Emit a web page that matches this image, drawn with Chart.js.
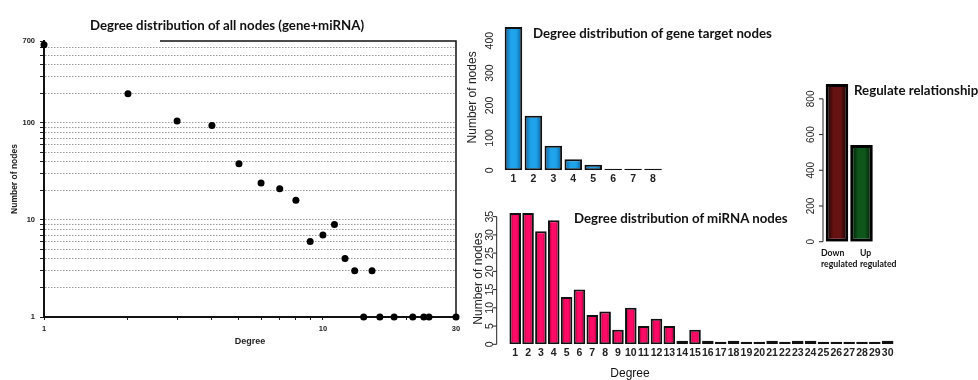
<!DOCTYPE html>
<html lang="en">
<head>
<meta charset="UTF-8">
<title>Degree distribution of gene and miRNA nodes</title>
<script src="https://cdn.jsdelivr.net/npm/chart.js"></script>
<style>
  html, body { margin: 0; padding: 0; background: #fff; }
  body { position: relative; width: 978px; height: 380px; overflow: hidden; }
  .panel { position: absolute; }
  .head { position: absolute; font: bold 13.25px Lato, sans-serif; color: #111; white-space: nowrap; transform: translateY(-50%); }
</style>
</head>
<body>
  <div class="panel" style="left:0;top:0;width:470px;height:360px"><canvas id="allNodes"></canvas></div>
  <div class="panel" style="left:460px;top:0;width:330px;height:190px"><canvas id="geneNodes"></canvas></div>
  <div class="panel" style="left:460px;top:190px;width:480px;height:190px"><canvas id="mirnaNodes"></canvas></div>
  <div class="panel" style="left:790px;top:60px;width:188px;height:220px"><canvas id="regulate"></canvas></div>

  <div class="head" style="left:227px;top:25px;transform:translate(-50%,-50%)">Degree distribution of all nodes (gene+miRNA)</div>
  <div class="head" style="left:533px;top:33px">Degree distribution of gene target nodes</div>
  <div class="head" style="left:574px;top:218px">Degree distribution of miRNA nodes</div>
  <div class="head" style="left:854px;top:90px">Regulate relationship</div>
  <div class="head" style="left:630px;top:373px;transform:translate(-50%,-50%);font:12px 'Liberation Sans',Arial,sans-serif">Degree</div>

<script>
// all nodes (gene + miRNA), log-log
const allDegree = [1, 2, 3, 4, 5, 6, 7, 8, 9, 10, 11, 12, 13, 14, 15, 16, 18, 21, 23, 24, 30];
const allCount  = [640, 200, 105, 94, 38, 24, 21, 16, 6, 7, 9, 4, 3, 1, 3, 1, 1, 1, 1, 1, 1];
const allYTicks = [1, 2, 3, 4, 5, 6, 7, 8, 9, 10, 20, 30, 40, 50, 60, 70, 80, 90, 100, 200, 300, 400, 500, 600, 700];
const allYLabels = [1, 10, 100, 700];
const allXTicks = [1, 2, 3, 4, 5, 6, 7, 8, 9, 10, 20, 30];
const allXLabels = [1, 10, 30];

// gene target nodes
const geneDegree = ['1', '2', '3', '4', '5', '6', '7', '8'];
const geneCount  = [442, 168, 76, 34, 17, 5, 5, 5];
const geneYTicks = [0, 100, 200, 300, 400];

// miRNA nodes
const mirnaDegree = ['1', '2', '3', '4', '5', '6', '7', '8', '9', '10', '11', '12', '13', '14', '15',
                     '16', '17', '18', '19', '20', '21', '22', '23', '24', '25', '26', '27', '28', '29', '30'];
const mirnaCount  = [36, 36, 31, 34, 13, 15, 8, 9, 4, 10, 5, 7, 5, 1, 4,
                     1, 0, 1, 0, 0, 1, 0, 1, 1, 0, 0, 0, 0, 0, 1];
const mirnaYTicks = [0, 5, 10, 15, 20, 25, 30, 35];

// regulate relationship
const regLabels = [['Down', 'regulated'], ['Up', 'regulated']];
const regCount  = [883, 542];
const regYTicks = [0, 200, 400, 600, 800];

Chart.defaults.animation = false;
Chart.defaults.maintainAspectRatio = false;
Chart.defaults.plugins.legend.display = false;
Chart.defaults.plugins.tooltip.enabled = false;
Chart.defaults.font.family = "'Liberation Sans', Arial, sans-serif";
Chart.defaults.color = '#222';

const fixW = w => s => { s.width = w; };
const fixH = h => s => { s.height = h; };

// bars darker at the sides, like the shaded R bars
function glow(edges, mids, pct) {
  return c => {
    const i = c.dataIndex || 0;
    const edge = edges[i % edges.length], mid = mids[i % mids.length];
    const x = c.chart.scales.x;
    if (c.type !== 'data' || !x || !x.width) return mid;
    const cx = x.getPixelForValue(i);
    const half = x.width / c.chart.data.labels.length * pct / 2;
    const g = c.chart.ctx.createLinearGradient(cx - half, 0, cx + half, 0);
    g.addColorStop(0, edge);
    g.addColorStop(0.35, mid);
    g.addColorStop(0.65, mid);
    g.addColorStop(1, edge);
    return g;
  };
}

// R style y axis: labels turned on their side, small ticks, short axis line
const sideAxis = {
  id: 'sideAxis',
  afterDraw(chart, args, o) {
    if (!o || !o.values) return;
    const ctx = chart.ctx, y = chart.scales.y;
    ctx.save();
    ctx.fillStyle = '#222';
    ctx.strokeStyle = '#222';
    ctx.lineWidth = 1;
    ctx.font = o.font;
    ctx.textAlign = 'center';
    ctx.textBaseline = 'middle';
    for (const v of o.values) {
      const py = y.getPixelForValue(v);
      ctx.save();
      ctx.translate(o.labelX, py);
      ctx.rotate(-Math.PI / 2);
      ctx.fillText(String(v), 0, 0);
      ctx.restore();
      if (o.axisX !== undefined) {
        ctx.beginPath();
        ctx.moveTo(o.axisX - 4, py);
        ctx.lineTo(o.axisX, py);
        ctx.stroke();
      }
    }
    if (o.axisX !== undefined) {
      ctx.beginPath();
      ctx.moveTo(o.axisX, y.getPixelForValue(o.values[0]));
      ctx.lineTo(o.axisX, y.getPixelForValue(o.values[o.values.length - 1]));
      ctx.stroke();
    }
    ctx.restore();
  }
};

// two-line category labels, left aligned and nudged from the bar centre
const catLabels = {
  id: 'catLabels',
  afterDraw(chart, args, o) {
    if (!o || !o.nudge) return;
    const ctx = chart.ctx, x = chart.scales.x;
    ctx.save();
    ctx.font = o.font;
    ctx.fillStyle = '#111';
    ctx.textAlign = 'left';
    ctx.textBaseline = 'middle';
    chart.data.labels.forEach((lab, i) => {
      const px = x.getPixelForValue(i) + o.nudge[i];
      [].concat(lab).forEach((line, k) => ctx.fillText(line, px, x.top + o.first + k * o.lineGap));
    });
    ctx.restore();
  }
};

// top and right edge of the log-log box
const frame = {
  id: 'frame',
  beforeDatasetsDraw(chart, args, o) {
    if (!o || !o.topFrom) return;
    const ctx = chart.ctx, a = chart.chartArea;
    ctx.save();
    ctx.strokeStyle = '#111';
    ctx.lineWidth = 1.5;
    ctx.beginPath();
    ctx.moveTo(o.topFrom, a.top);
    ctx.lineTo(a.right, a.top);
    ctx.lineTo(a.right, a.bottom);
    ctx.stroke();
    ctx.restore();
  }
};
Chart.register(sideAxis, catLabels, frame);

new Chart(document.getElementById('allNodes'), {
  type: 'scatter',
  data: {
    datasets: [{
      data: allDegree.map((d, i) => ({ x: d, y: allCount[i] })),
      pointRadius: 3.5,
      backgroundColor: '#000',
      borderWidth: 0,
      clip: false
    }]
  },
  options: {
    layout: { padding: { top: 41, right: 14, left: 0, bottom: 0 } },
    scales: {
      x: {
        type: 'logarithmic', min: 1, max: 30,
        afterBuildTicks: s => { s.ticks = allXTicks.map(v => ({ value: v })); },
        afterFit: fixH(43),
        ticks: {
          autoSkip: false, maxRotation: 0, padding: 4.5,
          font: { size: 7.5, weight: 'bold' },
          callback: v => allXLabels.includes(v) ? String(v) : ''
        },
        grid: { drawOnChartArea: false, tickLength: 3, tickColor: '#222' },
        border: { color: '#111', width: 2 },
        title: { display: true, text: 'Degree', font: { size: 9, weight: 'bold' }, padding: { top: 0, bottom: 12.6 } }
      },
      y: {
        type: 'logarithmic', min: 1, max: 700,
        afterBuildTicks: s => { s.ticks = allYTicks.map(v => ({ value: v })); },
        afterFit: fixW(44),
        ticks: {
          autoSkip: false, padding: 5,
          font: { size: 7.5, weight: 'bold' },
          callback: v => allYLabels.includes(v) ? String(v) : ''
        },
        grid: {
          color: c => c.tick && c.tick.value === 700 ? 'rgba(0,0,0,0)' : '#9a9a9a',
          lineWidth: 1, tickLength: 4, tickColor: '#222', tickBorderDash: []
        },
        border: { color: '#111', width: 2, dash: [1.5, 1.5] },
        title: { display: true, text: 'Number of nodes', font: { size: 8.5, weight: 'bold' }, padding: { top: 10, bottom: 0 } }
      }
    },
    plugins: { frame: { topFrom: 160 } }
  }
});

new Chart(document.getElementById('geneNodes'), {
  type: 'bar',
  data: {
    labels: geneDegree,
    datasets: [{
      data: geneCount,
      backgroundColor: glow(['#0b5f9e'], ['#1fa3ea'], 0.88),
      borderColor: '#111',
      borderWidth: 2,
      borderSkipped: false,
      barPercentage: 0.88,
      categoryPercentage: 1
    }]
  },
  options: {
    layout: { padding: { top: 24.5, right: 127, left: 0, bottom: 0 } },
    scales: {
      x: {
        afterFit: fixH(19.7),
        grid: { display: false, drawTicks: false },
        border: { display: false },
        ticks: { padding: 2.7, font: { size: 10.5, weight: 'bold' } }
      },
      y: {
        min: 0, max: 450,
        afterFit: fixW(43.5),
        grid: { display: false, drawTicks: false },
        border: { display: false },
        ticks: { display: false },
        title: { display: true, text: 'Number of nodes', font: { size: 12 }, padding: { top: 5.5, bottom: 0 } }
      }
    },
    plugins: { sideAxis: { values: geneYTicks, labelX: 30, font: "10.5px 'Liberation Sans', Arial, sans-serif" } }
  }
});

new Chart(document.getElementById('mirnaNodes'), {
  type: 'bar',
  data: {
    labels: mirnaDegree,
    datasets: [{
      data: mirnaCount,
      backgroundColor: glow(['#7a0028'], ['#ff0a66'], 0.9),
      borderColor: '#111',
      borderWidth: 2,
      borderSkipped: false,
      minBarLength: 2.5,
      barPercentage: 0.9,
      categoryPercentage: 1
    }]
  },
  options: {
    layout: { padding: { top: 23, right: 45.9, left: 0, bottom: 0 } },
    scales: {
      x: {
        afterFit: fixH(35.7),
        grid: { display: false, drawTicks: false },
        border: { display: false },
        ticks: { autoSkip: false, maxRotation: 0, padding: 2.7, font: { size: 10.5, weight: 'bold' } }
      },
      y: {
        min: 0, max: 36,
        afterFit: fixW(48.8),
        grid: { display: false, drawTicks: false },
        border: { display: false },
        ticks: { display: false },
        title: { display: true, text: 'Number of nodes', font: { size: 12 }, padding: { top: 11.1, bottom: 0 } }
      }
    },
    plugins: { sideAxis: { values: mirnaYTicks, labelX: 30.5, axisX: 36.7, font: "10.5px 'Liberation Sans', Arial, sans-serif" } }
  }
});

new Chart(document.getElementById('regulate'), {
  type: 'bar',
  data: {
    labels: regLabels,
    datasets: [{
      data: regCount,
      backgroundColor: glow(['#0c0101', '#010c02'], ['#661212', '#0f561b'], 0.92),
      borderColor: '#000',
      borderWidth: 3,
      borderSkipped: false,
      barPercentage: 0.92,
      categoryPercentage: 1
    }]
  },
  options: {
    layout: { padding: { top: 21, right: 104.25, left: 0, bottom: 0 } },
    scales: {
      x: {
        afterFit: fixH(38.3),
        grid: { display: false, drawTicks: false },
        border: { display: false },
        ticks: { display: false }
      },
      y: {
        min: 0, max: 900,
        afterFit: fixW(34.75),
        grid: { display: false, drawTicks: false },
        border: { display: false },
        ticks: { display: false }
      }
    },
    plugins: {
      sideAxis: { values: regYTicks, labelX: 21.7, axisX: 33, font: "10px 'Liberation Sans', Arial, sans-serif" },
      catLabels: { nudge: [-16, -1.5], first: 11.6, lineGap: 11, font: "bold 8.7px Lato, sans-serif" }
    }
  }
});
</script>
</body>
</html>
